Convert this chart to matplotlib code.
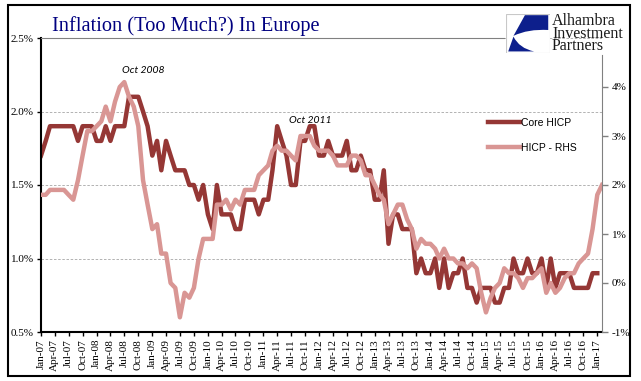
import pandas as pd
import matplotlib
matplotlib.use("Agg")
import matplotlib.pyplot as plt
import matplotlib.dates as mdates
from matplotlib.patches import Rectangle, PathPatch
from matplotlib.path import Path

# monthly values, Jan-07 onwards (left axis, %)
core_hicp = [1.7, 1.8, 1.9, 1.9, 1.9, 1.9, 1.9, 1.9, 1.8, 1.9, 1.9, 1.9,
             1.8, 1.8, 1.9, 1.8, 1.9, 1.9, 1.9, 2.1, 2.1, 2.1, 2.0, 1.9,
             1.7, 1.8, 1.6, 1.8, 1.7, 1.6, 1.6, 1.6, 1.5, 1.5, 1.4, 1.5,
             1.3, 1.2, 1.5, 1.3, 1.3, 1.3, 1.2, 1.2, 1.4, 1.4, 1.4, 1.3,
             1.4, 1.4, 1.6, 1.9, 1.8, 1.7, 1.5, 1.5, 1.8, 1.8, 1.9, 1.9,
             1.7, 1.7, 1.8, 1.7, 1.7, 1.7, 1.8, 1.6, 1.6, 1.7, 1.6, 1.6,
             1.4, 1.4, 1.6, 1.1, 1.3, 1.3, 1.2, 1.2, 1.2, 0.9, 1.0, 0.9,
             0.9, 1.0, 0.8, 1.0, 0.8, 0.9, 0.9, 1.0, 0.8, 0.8, 0.7, 0.8,
             0.8, 0.8, 0.7, 0.7, 0.8, 0.8, 1.0, 0.9, 0.9, 1.0, 0.9, 0.9,
             1.0, 0.8, 1.0, 0.8, 0.9, 0.9, 0.9, 0.8, 0.8, 0.8, 0.8, 0.9,
             0.9]

# headline HICP (right axis, %), Jan-07 to Feb-17
hicp = [1.8, 1.8, 1.9, 1.9, 1.9, 1.9, 1.8, 1.7, 2.1, 2.6, 3.1, 3.1,
        3.2, 3.3, 3.6, 3.3, 3.7, 4.0, 4.1, 3.8, 3.6, 3.2, 2.1, 1.6,
        1.1, 1.2, 0.6, 0.6, 0.0, -0.1, -0.7, -0.2, -0.3, -0.1, 0.5, 0.9,
        0.9, 0.9, 1.6, 1.6, 1.7, 1.5, 1.7, 1.6, 1.9, 1.9, 1.9, 2.2,
        2.3, 2.4, 2.7, 2.8, 2.7, 2.7, 2.6, 2.5, 3.0, 3.0, 3.0, 2.8,
        2.7, 2.7, 2.7, 2.6, 2.4, 2.4, 2.4, 2.6, 2.6, 2.5, 2.2, 2.2,
        2.0, 1.8, 1.7, 1.2, 1.4, 1.6, 1.6, 1.3, 1.1, 0.7, 0.9, 0.8,
        0.8, 0.7, 0.5, 0.7, 0.5, 0.5, 0.4, 0.4, 0.3, 0.4, 0.3, -0.2,
        -0.6, -0.3, -0.1, 0.0, 0.3, 0.2, 0.2, 0.1, -0.1, 0.1, 0.1, 0.2,
        0.3, -0.2, 0.0, -0.2, -0.1, 0.1, 0.2, 0.2, 0.4, 0.5, 0.6, 1.1,
        1.8, 2.0]

months = pd.date_range("2007-01-01", periods=len(hicp), freq="MS")
tick_months = pd.date_range("2007-01-01", "2017-01-01", freq="3MS")
tick_labels = [d.strftime("%b-%y") for d in tick_months]

left_ticks = [0.5, 1.0, 1.5, 2.0, 2.5]
right_ticks = [-1, 0, 1, 2, 3, 4]

core_color = "#953735"
hicp_color = "#d99694"
serif = "Liberation Serif"

fig = plt.figure(figsize=(6.41, 3.81), dpi=100)
ax = fig.add_axes([41/641, 49/381, 561/641, 294/381])
ax2 = ax.twinx()

l1, = ax.plot(months[:len(core_hicp)], core_hicp, color=core_color, lw=3.2,
              label="Core HICP")
l2, = ax2.plot(months, hicp, color=hicp_color, lw=3.2, label="HICP - RHS")

ax.set_xlim(months[0], months[-1])
ax.set_ylim(0.5, 2.5)
ax2.set_ylim(-1, 5)

ax.set_yticks(left_ticks)
ax.set_yticklabels([f"{v:.1f}%" for v in left_ticks], family=serif, fontsize=8)
ax2.set_yticks(right_ticks)
ax2.set_yticklabels([f"{v}%" for v in right_ticks], family=serif, fontsize=8)
ax.set_xticks(tick_months)
ax.set_xticklabels(tick_labels, rotation=90, family=serif, fontsize=8)

ax.yaxis.grid(True, ls=(0, (3, 2)), color="#a6a6a6", lw=0.6)
ax.tick_params(axis="y", length=3, width=1, pad=2)
ax.tick_params(axis="x", length=3, width=1, pad=2)
ax2.tick_params(axis="y", length=4, width=1, color="#808080", pad=3)

for s in ["left", "bottom"]:
    ax.spines[s].set_linewidth(1.5)
ax.spines["right"].set_visible(False)
ax.spines["top"].set_color("#808080")
ax.spines["top"].set_bounds(mdates.date2num(months[0]), mdates.date2num(months[100]))
for s in ["left", "bottom", "top"]:
    ax2.spines[s].set_visible(False)
ax2.spines["right"].set_color("#808080")
ax2.spines["right"].set_bounds(-1, 4.65)

ax.text(months[22], 2.28, "Oct 2008", style="italic", family="Lato",
        fontsize=7.5, ha="center", va="center", color="black")
ax.text(months[58], 1.94, "Oct 2011", style="italic", family="Lato",
        fontsize=7.5, ha="center", va="center", color="black")

leg = ax2.legend(handles=[l1, l2], loc="upper left", bbox_to_anchor=(0.797, 0.728),
                 frameon=False, borderpad=0, borderaxespad=0, handlelength=3.1,
                 handletextpad=0.1, labelspacing=1.4,
                 prop={"family": "Liberation Sans", "size": 7.5})

fig.text(52/641, 1 - 31/381, "Inflation (Too Much?) In Europe", family=serif,
         fontsize=14.7, color="#000080", va="baseline")

# logo
logo = fig.add_axes([506/641, 328/381, 44/641, 39/381])
logo.set_xlim(0, 1)
logo.set_ylim(0, 1)
logo.axis("off")
logo.add_patch(Rectangle((0, 0), 1, 1, facecolor="white", edgecolor="#c8c8c8", lw=0.8))
navy = "#0d1f8c"
upper = Path([(0.43, 0.97), (0.96, 0.97), (0.96, 0.59), (0.5, 0.62), (0.17, 0.44),
              (0.43, 0.97)],
             [Path.MOVETO, Path.LINETO, Path.LINETO, Path.CURVE3, Path.CURVE3,
              Path.CLOSEPOLY])
lower = Path([(0.17, 0.42), (0.3, 0.12), (0.64, 0.04), (0.05, 0.04), (0.17, 0.42)],
             [Path.MOVETO, Path.CURVE3, Path.CURVE3, Path.LINETO, Path.CLOSEPOLY])
logo.add_patch(PathPatch(upper, facecolor=navy, edgecolor="none"))
logo.add_patch(PathPatch(lower, facecolor=navy, edgecolor="none"))
fig.text(552/641, 1 - 13/381, "Alhambra\nInvestment\nPartners", family=serif,
         fontsize=11.5, linespacing=0.72, va="top", color="#1a1a1a")

fig.patches.append(Rectangle((8/641, 5/381), 622/641, 371/381, transform=fig.transFigure,
                             fill=False, edgecolor="black", lw=1.5))

fig.savefig("out.png", dpi=100)
